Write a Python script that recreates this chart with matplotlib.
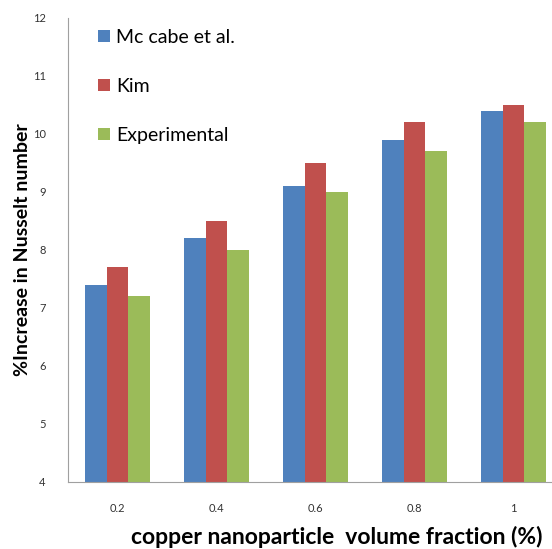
import numpy as np
import matplotlib
matplotlib.use('Agg')
import matplotlib.pyplot as plt

categories = ['0.2', '0.4', '0.6', '0.8', '1']
mccabe = [7.4, 8.2, 9.1, 9.9, 10.4]
kim = [7.7, 8.5, 9.5, 10.2, 10.5]
experimental = [7.2, 8.0, 9.0, 9.7, 10.2]

plt.rcParams['font.family'] = ['Lato', 'DejaVu Sans']

fig = plt.figure(figsize=(5.52, 5.49), dpi=100)
ax = fig.add_axes([68 / 552, 67 / 549, 495 / 552, 464 / 549])

x = np.arange(len(categories))
w = 0.22
ax.bar(x - w, mccabe, w, color='#4F81BD', label='Mc cabe et al.')
ax.bar(x, kim, w, color='#C0504D', label='Kim')
ax.bar(x + w, experimental, w, color='#9BBB59', label='Experimental')

ax.set_xlim(-0.5, len(categories) - 0.5)
ax.set_ylim(4, 12)
ax.set_xticks(x)
ax.set_xticklabels(categories)
ax.set_yticks(range(4, 13))
ax.tick_params(length=0, labelsize=8, colors='#333333')
ax.tick_params(axis='y', pad=16)
ax.tick_params(axis='x', pad=15)

for s in ['top', 'right']:
    ax.spines[s].set_visible(False)
for s in ['left', 'bottom']:
    ax.spines[s].set_color('#A0A0A0')

ax.set_ylabel('%Increase in Nusselt number', fontsize=14, fontweight='bold', labelpad=1)
ax.set_xlabel('copper nanoparticle  volume fraction (%)', fontsize=16.5, fontweight='bold')
# label is centred a bit right of the axes centre in the original
ax.xaxis.set_label_coords(0.543, -0.095)

ax.legend(loc='upper left', bbox_to_anchor=(0.025, 1.015), frameon=False, fontsize=14,
          handlelength=0.6, handleheight=0.6, handletextpad=0.35, labelspacing=1.65)

fig.savefig('out.png', dpi=100)
